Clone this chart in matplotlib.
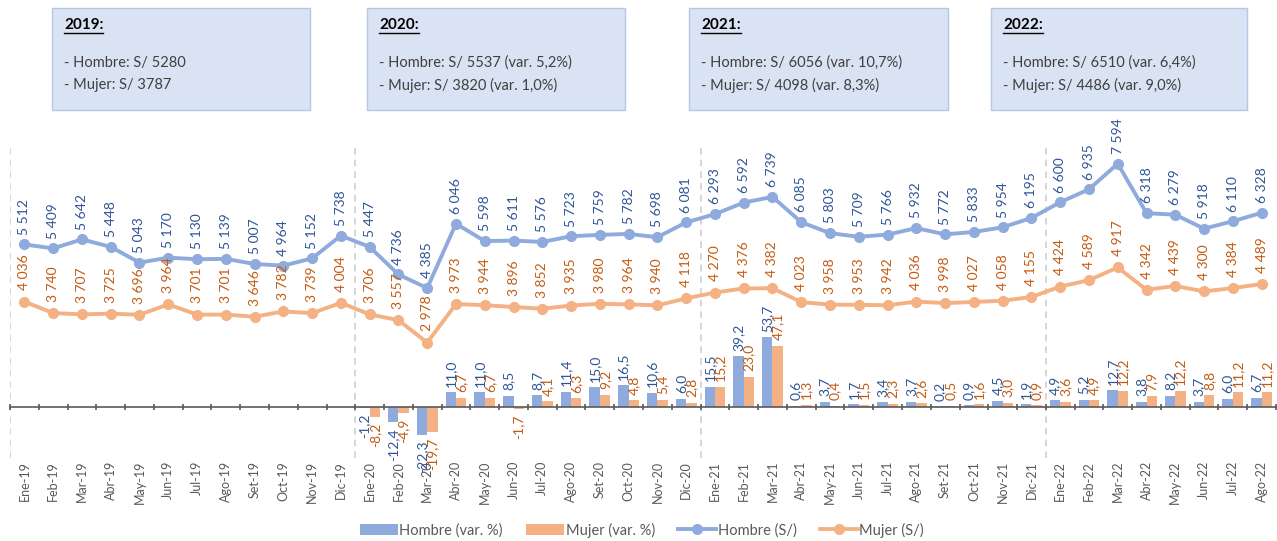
import numpy as np
import matplotlib
matplotlib.use("Agg")
import matplotlib.pyplot as plt
from matplotlib.patches import Rectangle
from matplotlib.lines import Line2D
from matplotlib.patches import Patch
import matplotlib.transforms as mtransforms

plt.rcParams['font.family'] = ['Lato', 'DejaVu Sans']

# data
meses = ['Ene', 'Feb', 'Mar', 'Abr', 'May', 'Jun', 'Jul', 'Ago', 'Set', 'Oct', 'Nov', 'Dic']
labels = [f'{m}-{y}' for y in ['19', '20', '21'] for m in meses] + [f'{m}-22' for m in meses[:8]]

hombre = [5512, 5409, 5642, 5448, 5043, 5170, 5130, 5139, 5007, 4964, 5152, 5738,
          5447, 4736, 4385, 6046, 5598, 5611, 5576, 5723, 5759, 5782, 5698, 6081,
          6293, 6592, 6739, 6085, 5803, 5709, 5766, 5932, 5772, 5833, 5954, 6195,
          6600, 6935, 7594, 6318, 6279, 5918, 6110, 6328]
mujer = [4036, 3740, 3707, 3725, 3696, 3964, 3701, 3701, 3646, 3782, 3739, 4004,
         3706, 3557, 2978, 3973, 3944, 3896, 3852, 3935, 3980, 3964, 3940, 4118,
         4270, 4376, 4382, 4023, 3958, 3953, 3942, 4036, 3998, 4027, 4058, 4155,
         4424, 4589, 4917, 4342, 4439, 4300, 4384, 4489]
var_hombre = [-1.2, -12.4, -22.3, 11.0, 11.0, 8.5, 8.7, 11.4, 15.0, 16.5, 10.6, 6.0,
              15.5, 39.2, 53.7, 0.6, 3.7, 1.7, 3.4, 3.7, 0.2, 0.9, 4.5, 1.9,
              4.9, 5.2, 12.7, 3.8, 8.2, 3.7, 6.0, 6.7]
var_mujer = [-8.2, -4.9, -19.7, 6.7, 6.7, -1.7, 4.1, 6.3, 9.2, 4.8, 5.4, 2.8,
             15.2, 23.0, 47.1, 1.3, 0.4, 1.5, 2.3, 2.6, 0.5, 1.6, 3.0, 0.9,
             3.6, 4.9, 12.2, 7.9, 12.2, 8.8, 11.2, 11.2]

cajas = [
    ('2019:', '- Hombre: S/ 5280', '- Mujer: S/ 3787'),
    ('2020:', '- Hombre: S/ 5537 (var. 5,2%)', '- Mujer: S/ 3820 (var. 1,0%)'),
    ('2021:', '- Hombre: S/ 6056 (var. 10,7%)', '- Mujer: S/ 4098 (var. 8,3%)'),
    ('2022:', '- Hombre: S/ 6510 (var. 6,4%)', '- Mujer: S/ 4486 (var. 9,0%)'),
]

azul = '#8FAADC'
azul_osc = '#2F5597'
naranja = '#F4B183'
naranja_osc = '#C55A11'
gris = '#595959'

W, H = 1277, 541
fig = plt.figure(figsize=(W / 100, H / 100), dpi=100)

def fx(px):
    return px / W

def fy(py):
    return 1 - py / H

ax = fig.add_axes([fx(10), fy(458), fx(1276) - fx(10), fy(148) - fy(458)])
ax2 = ax.twinx()

n = len(labels)
x = np.arange(n)
xb = x[12:]
bw = 0.36

# bars
ax.bar(xb - bw / 2, var_hombre, bw, color=azul, zorder=2)
ax.bar(xb + bw / 2, var_mujer, bw, color=naranja, zorder=2)
ax.set_ylim(-40, 201)
ax.set_xlim(-0.5, n - 0.5)

for xi, v in zip(xb - bw / 2, var_hombre):
    ax.annotate(f'{v:.1f}'.replace('.', ','), (xi, v), xytext=(0, 4 if v >= 0 else -4),
                textcoords='offset points', rotation=90, ha='center',
                va='bottom' if v >= 0 else 'top', color=azul_osc, fontsize=10, zorder=5)
for xi, v in zip(xb + bw / 2, var_mujer):
    ax.annotate(f'{v:.1f}'.replace('.', ','), (xi, v), xytext=(0, 4 if v >= 0 else -4),
                textcoords='offset points', rotation=90, ha='center',
                va='bottom' if v >= 0 else 'top', color=naranja_osc, fontsize=10, zorder=5)

# zero axis with ticks at category boundaries
for s in ['top', 'right', 'left']:
    ax.spines[s].set_visible(False)
ax.spines['bottom'].set_position(('data', 0))
ax.spines['bottom'].set_color('#595959')
ax.spines['bottom'].set_linewidth(1.2)
ax.set_xticks(np.arange(-0.5, n, 1.0))
ax.set_xticklabels([])
ax.tick_params(axis='x', length=5, width=1.2, color='#595959', direction='inout')
ax.set_yticks([])

trans = mtransforms.blended_transform_factory(ax.transData, fig.transFigure)
for xi, lab in zip(x, labels):
    ax.text(xi, fy(461), lab, transform=trans, rotation=90, ha='center', va='top',
            fontsize=9, color=gris)

# separators between years
for xs in [-0.5, 11.5, 23.5, 35.5]:
    ax.axvline(xs, color='#D0D0D0', ls=(0, (4, 3)), lw=1.2, zorder=0)

# lines
ax2.plot(x, hombre, color=azul, lw=2.8, marker='o', ms=7, zorder=3)
ax2.plot(x, mujer, color=naranja, lw=2.8, marker='o', ms=7, zorder=3)
ax2.set_ylim(0, 8000)
ax2.set_yticks([])
for s in ['top', 'right', 'left', 'bottom']:
    ax2.spines[s].set_visible(False)

def miles(v):
    return f'{v:,}'.replace(',', ' ')

for xi, v in zip(x, hombre):
    ax2.annotate(miles(v), (xi, v), xytext=(0, 7), textcoords='offset points',
                 rotation=90, ha='center', va='bottom', color=azul_osc, fontsize=10)
for xi, v in zip(x, mujer):
    ax2.annotate(miles(v), (xi, v), xytext=(0, 8), textcoords='offset points',
                 rotation=90, ha='center', va='bottom', color=naranja_osc, fontsize=10)

# legend
handles = [
    Patch(facecolor=azul, label='Hombre (var. %)'),
    Patch(facecolor=naranja, label='Mujer (var. %)'),
    Line2D([0], [0], color=azul, lw=2.8, marker='o', ms=7, label='Hombre (S/)'),
    Line2D([0], [0], color=naranja, lw=2.8, marker='o', ms=7, label='Mujer (S/)'),
]
fig.legend(handles=handles, loc='center', bbox_to_anchor=(fx(642), fy(530)), ncol=4,
           frameon=False, fontsize=10.5, labelcolor=gris, handlelength=2.6,
           handletextpad=0.1, columnspacing=1.6)

# summary boxes
cajas_px = [(52, 310), (367, 625), (689, 948), (991, 1247)]
renderer = fig.canvas.get_renderer()
for (x0, x1), (anio, l1, l2) in zip(cajas_px, cajas):
    fig.patches.append(Rectangle((fx(x0), fy(110)), fx(x1 - x0), fy(8) - fy(110),
                                 transform=fig.transFigure, facecolor='#DAE3F3',
                                 edgecolor='#B4C7E7', lw=1))
    t = fig.text(fx(x0 + 12), fy(25), anio, fontsize=11, fontweight='bold',
                 color='black', va='center', ha='left')
    bb = t.get_window_extent(renderer)
    yl = bb.y0 - 1
    fig.add_artist(Line2D([bb.x0 / (W), bb.x1 / (W)], [yl / H, yl / H],
                          transform=fig.transFigure, color='black', lw=1))
    fig.text(fx(x0 + 12), fy(63), l1, fontsize=10.5, color='#404040', va='center', ha='left')
    fig.text(fx(x0 + 12), fy(85), l2, fontsize=10.5, color='#404040', va='center', ha='left')

fig.savefig('out.png', dpi=100)
